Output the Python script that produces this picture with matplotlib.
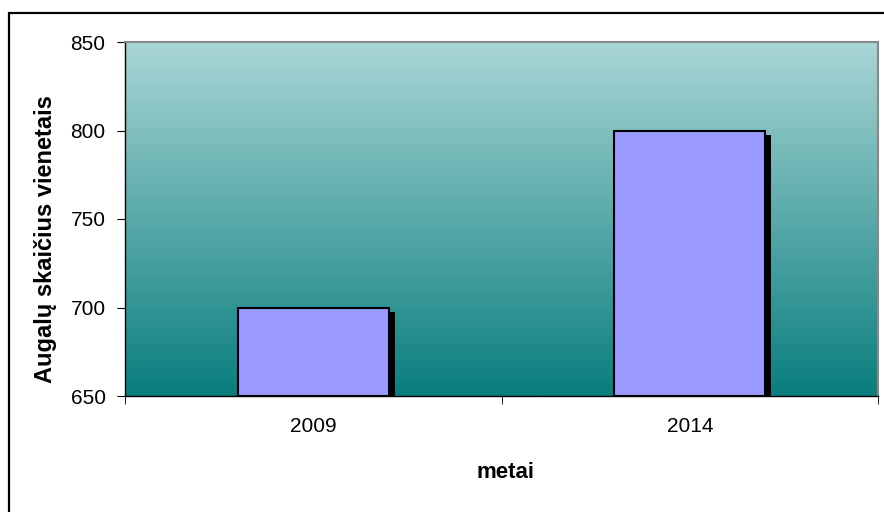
import matplotlib
matplotlib.use("Agg")
import matplotlib.pyplot as plt
import matplotlib.transforms as mtransforms
from matplotlib.colors import LinearSegmentedColormap
from matplotlib.patches import Rectangle
import numpy as np

plt.rcParams['font.family'] = ['Liberation Sans', 'DejaVu Sans']

categories = ["2009", "2014"]
values = [700, 800]
y_ticks = [650, 700, 750, 800, 850]
y_label = "Augalų skaičius vienetais"
x_label = "metai"

W, H = 884, 512
fig = plt.figure(figsize=(W / 100, H / 100), dpi=100)
fig.patch.set_facecolor("white")

# outer border
fig.patches.append(Rectangle((9 / W, -0.1), 1.2, 1 - 13 / H + 0.1, transform=fig.transFigure,
                             fill=False, edgecolor="black", linewidth=1.6, zorder=0))

left, right, top, bottom = 125, 878, 42, 396
ax = fig.add_axes([left / W, 1 - bottom / H, (right - left) / W, (bottom - top) / H])

ymin, ymax = 650, 850
x = np.arange(len(categories))
ax.set_xlim(-0.5, len(categories) - 0.5)
ax.set_ylim(ymin, ymax)

# gradient background
cmap = LinearSegmentedColormap.from_list("bg", ["#0a7e7e", "#a9d5d5"])
grad = np.linspace(0, 1, 256).reshape(-1, 1)
ax.imshow(grad, cmap=cmap, aspect="auto", origin="lower",
          extent=[-0.5, len(categories) - 0.5, ymin, ymax], zorder=0)

# shadow
shadow_tr = ax.transData + mtransforms.ScaledTranslation(6 / 100, -4 / 100, fig.dpi_scale_trans)
ax.bar(x, np.array(values) - ymin, bottom=ymin, width=0.4, color="black", zorder=2,
       transform=shadow_tr, clip_on=True)
ax.bar(x, np.array(values) - ymin, bottom=ymin, width=0.4, color="#9999ff",
       edgecolor="black", linewidth=1.5, zorder=3)

ax.set_yticks(y_ticks)
ax.set_yticklabels([str(v) for v in y_ticks], fontsize=15)
ax.set_xticks(x)
ax.set_xticklabels(categories, fontsize=15)
ax.set_xticks([-0.5, 0.5, 1.5], minor=True)
ax.tick_params(axis="x", which="major", length=0, pad=15)
ax.tick_params(axis="x", which="minor", length=6, direction="out", color="black")
ax.tick_params(axis="y", length=6, direction="out", color="black", pad=8)

for s in ["top", "right"]:
    ax.spines[s].set_color("#888888")
    ax.spines[s].set_linewidth(1.5)
for s in ["left", "bottom"]:
    ax.spines[s].set_color("black")
    ax.spines[s].set_linewidth(1.0)

fig.text(46 / W, 1 - 239 / H, y_label, rotation=90, ha="center", va="center",
         fontsize=17, fontweight="bold")
fig.text(505 / W, 1 - 478 / H, x_label, ha="center", va="baseline",
         fontsize=16, fontweight="bold")

fig.savefig("out.png", dpi=100)
